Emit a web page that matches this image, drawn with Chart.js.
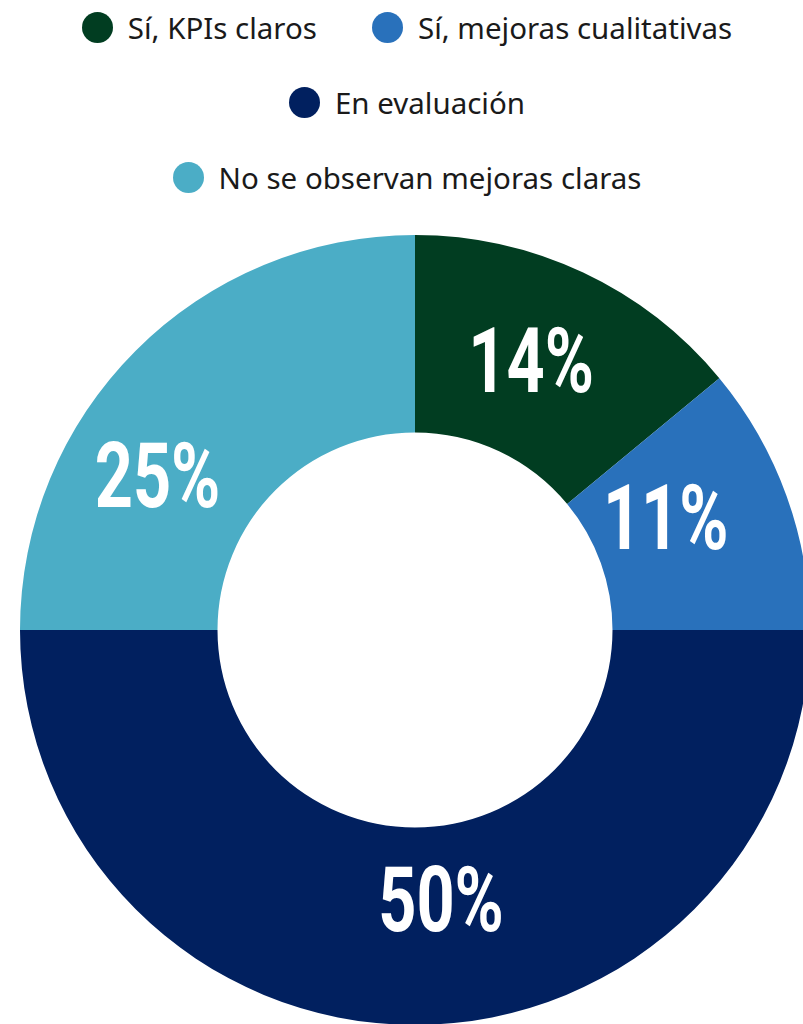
<!DOCTYPE html>
<html>
<head>
<meta charset="utf-8">
<script src="https://cdn.jsdelivr.net/npm/chart.js@4/dist/chart.umd.min.js"></script>
<style>
  html, body { margin: 0; padding: 0; width: 803px; height: 1024px; overflow: hidden; background: #fff; }
  #legend { position: absolute; top: -10px; left: 47px; width: 720px; display: flex; flex-wrap: wrap; justify-content: center; column-gap: 55px; }
  .item { display: flex; align-items: center; height: 75px; font-family: "Noto Sans", sans-serif; font-size: 29.5px; color: #1a1a1a; white-space: nowrap; }
  .dot { width: 31px; height: 31px; border-radius: 50%; margin-right: 15px; }
  #wrap { position: absolute; left: 0; top: 235px; width: 830px; height: 790px; }
</style>
</head>
<body>
<div id="legend"></div>
<div id="wrap"><canvas id="chartPie"></canvas></div>
<script>
// Categorías y valores del gráfico
const categorias = ["Sí, KPIs claros", "Sí, mejoras cualitativas", "En evaluación", "No se observan mejoras claras"];
const valores = [14, 11, 50, 25];
const colores = ["#013d21", "#2971bb", "#01205f", "#4badc6"];
// Ajuste manual de las etiquetas respecto al centro del segmento
const labelOffsets = [[-10, -2], [-28, -13], [26, -27], [-48, 54]];

// Leyenda en HTML
const legend = document.getElementById("legend");
categorias.forEach((cat, i) => {
  legend.innerHTML += `<div class="item"><span class="dot" style="background:${colores[i]}"></span>${cat}</div>`;
});

// Plugin para dibujar los porcentajes dentro de cada segmento
const pctLabels = {
  id: "pctLabels",
  afterDatasetsDraw(chart) {
    const ctx = chart.ctx;
    const meta = chart.getDatasetMeta(0);
    meta.data.forEach((arc, i) => {
      const p = arc.tooltipPosition();
      const x = p.x + labelOffsets[i][0];
      const y = p.y + labelOffsets[i][1];
      ctx.save();
      ctx.translate(x, y);
      ctx.scale(0.74, 1);
      ctx.fillStyle = "#fff";
      ctx.font = "bold 90px Roboto";
      ctx.textAlign = "center";
      ctx.textBaseline = "alphabetic";
      ctx.fillText(valores[i] + "%", 0, 32);
      ctx.restore();
    });
  }
};

new Chart(document.getElementById("chartPie"), {
  type: "doughnut",
  data: {
    labels: categorias,
    datasets: [{ data: valores, backgroundColor: colores, borderWidth: 0 }]
  },
  options: {
    responsive: true,
    maintainAspectRatio: false,
    animation: false,
    cutout: "50%",
    layout: { padding: 0 },
    plugins: { legend: { display: false }, tooltip: { enabled: false } }
  },
  plugins: [pctLabels]
});
</script>
</body>
</html>
